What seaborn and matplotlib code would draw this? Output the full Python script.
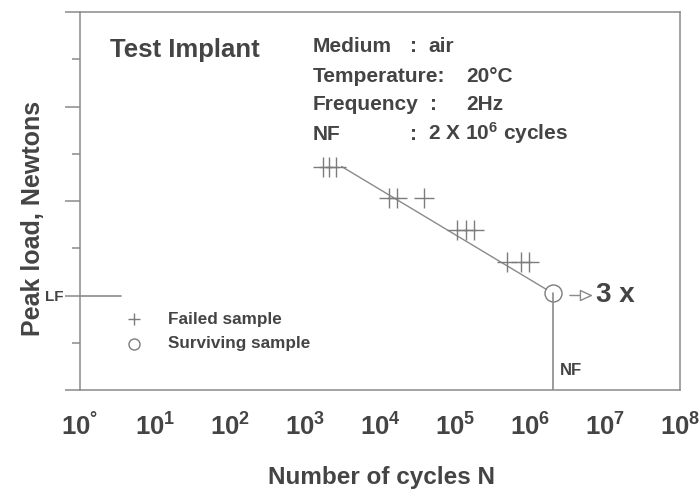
import matplotlib
matplotlib.use("Agg")
import matplotlib.pyplot as plt
import seaborn as sns
from matplotlib.ticker import FixedLocator, NullLocator

# S-N data (load axis has no units, LF level = 2)
failed_cycles = [1.74e3, 2.09e3, 2.58e3,
                 1.32e4, 1.69e4, 3.86e4,
                 1.06e5, 1.40e5, 1.78e5,
                 4.9e5, 7.6e5, 9.7e5]
failed_load = [4.73, 4.73, 4.73,
               4.07, 4.07, 4.07,
               3.39, 3.39, 3.39,
               2.71, 2.71, 2.71]
survivor_cycles = [2.0e6]
survivor_load = [2.05]
fit_cycles = [3.08e3, 2.0e6]
fit_load = [4.73, 2.05]
LF_LEVEL = 2.0
LF_LINE_END = 3.5
NF_CYCLES = 2.0e6

x_ticks = [10.0 ** k for k in range(0, 9)]
x_tick_labels = ["$10^{°}$"] + ["$10^{%d}$" % k for k in range(1, 9)]
y_major = [0, 2, 4, 6, 8]
y_minor = [1, 3, 5, 7]

info_labels = ["Medium", "Temperature:", "Frequency", "NF"]
info_colons = [":", "", ":", ":"]
info_values = ["air", "20°C", "2Hz", "2 X 10$^{6}$ cycles"]

TEXT = "#444444"
LINE = "#8a8a8a"
MARK = "#7c7c7c"

sns.set_theme(style="white")
plt.rcParams["font.family"] = ["Liberation Sans", "DejaVu Sans"]
plt.rcParams["font.weight"] = "bold"
plt.rcParams["text.color"] = TEXT
plt.rcParams["mathtext.fontset"] = "custom"
plt.rcParams["mathtext.rm"] = "Liberation Sans:bold"
plt.rcParams["mathtext.it"] = "Liberation Sans:bold"
plt.rcParams["mathtext.bf"] = "Liberation Sans:bold"
plt.rcParams["mathtext.default"] = "rm"

W, H = 700, 493
fig = plt.figure(figsize=(W / 100, H / 100), dpi=100)
ax = fig.add_axes([80 / W, 103 / H, 600 / W, 378 / H])


def fpos(x, y):
    return x / W, 1 - y / H


# fitted line, failed + surviving samples
sns.lineplot(x=fit_cycles, y=fit_load, ax=ax, color=LINE, linewidth=1.0,
             estimator=None, zorder=2)
sns.scatterplot(x=failed_cycles, y=failed_load, ax=ax, marker="+", s=190,
                color=MARK, linewidth=1.0, zorder=3, label="Failed sample")
sns.scatterplot(x=survivor_cycles, y=survivor_load, ax=ax, marker="o", s=150,
                facecolor="white", edgecolor=MARK, linewidth=1.0, zorder=4,
                label="Surviving sample")
ax.plot([NF_CYCLES, NF_CYCLES], [0, survivor_load[0]], color=LINE, lw=1.2, zorder=5)
ax.plot([1, LF_LINE_END], [LF_LEVEL, LF_LEVEL], color=LINE, lw=1.2, clip_on=False)

ax.set_xscale("log")
ax.set_xlim(1, 1e8)
ax.set_ylim(0, 8)

ax.xaxis.set_major_locator(FixedLocator(x_ticks))
ax.xaxis.set_minor_locator(NullLocator())
ax.set_xticklabels(x_tick_labels)
ax.yaxis.set_major_locator(FixedLocator(y_major))
ax.yaxis.set_minor_locator(FixedLocator(y_minor))
ax.set_yticklabels(["", "LF", "", "", ""])

ax.tick_params(axis="x", which="major", direction="out", length=10.8, width=1.1,
               color=LINE, pad=6, labelsize=18.5, labelcolor=TEXT)
ax.tick_params(axis="y", which="major", direction="out", length=10.8, width=1.1,
               color=LINE, pad=1, labelsize=11, labelcolor=TEXT, left=True)
ax.tick_params(axis="y", which="minor", direction="out", length=5.8, width=1.1,
               color=LINE, left=True)
for s in ax.spines.values():
    s.set_color(LINE)
    s.set_linewidth(1.1)
ax.grid(False)

ax.set_xlabel("Number of cycles N", fontsize=17.5, fontweight="bold", color=TEXT)
ax.xaxis.set_label_coords(0.503, -0.2)
ax.set_ylabel("Peak load, Newtons", fontsize=18, fontweight="bold", color=TEXT)
ax.yaxis.set_label_coords(-0.058, 0.455)

# legend
leg = ax.legend(loc="upper left", bbox_to_anchor=(0.075, 0.207), frameon=False,
                borderpad=0, borderaxespad=0, handlelength=1.0, handletextpad=1.5,
                labelspacing=0.55, markerscale=0.65,
                prop={"size": 12.3, "weight": "bold"}, labelcolor=TEXT)

# annotations at the surviving sample
ax.annotate("", xy=(6.9e6, LF_LEVEL), xytext=(3.4e6, LF_LEVEL),
            arrowprops=dict(arrowstyle="-|>,head_length=0.65,head_width=0.3",
                            fc="white", ec=LINE, lw=1.0, shrinkA=0, shrinkB=0))
ax.annotate("3 x", xy=(survivor_cycles[0], survivor_load[0]), xytext=(31, -1),
            textcoords="offset points", ha="left", va="center",
            fontsize=20, fontweight="bold", color=TEXT)
ax.annotate("NF", xy=(NF_CYCLES, 0), xytext=(5, 14), textcoords="offset points",
            ha="left", va="center", fontsize=12, fontweight="bold", color=TEXT)

# header texts
fig.text(*fpos(110, 57), "Test Implant", fontsize=18.5, fontweight="bold",
         va="baseline", ha="left")
row_base = [52, 82, 110, 140]
colon_x = [410, None, 430, 410]
value_x = [428, 466, 466, 428]
for lab, col, val, yb, cx, vx in zip(info_labels, info_colons, info_values,
                                     row_base, colon_x, value_x):
    fig.text(*fpos(313, yb), lab, fontsize=15, fontweight="bold", va="baseline")
    if col:
        fig.text(*fpos(cx, yb), col, fontsize=15, fontweight="bold", va="baseline")
    fig.text(*fpos(vx, yb), val, fontsize=15, fontweight="bold", va="baseline")

fig.savefig("out.png", dpi=100)
